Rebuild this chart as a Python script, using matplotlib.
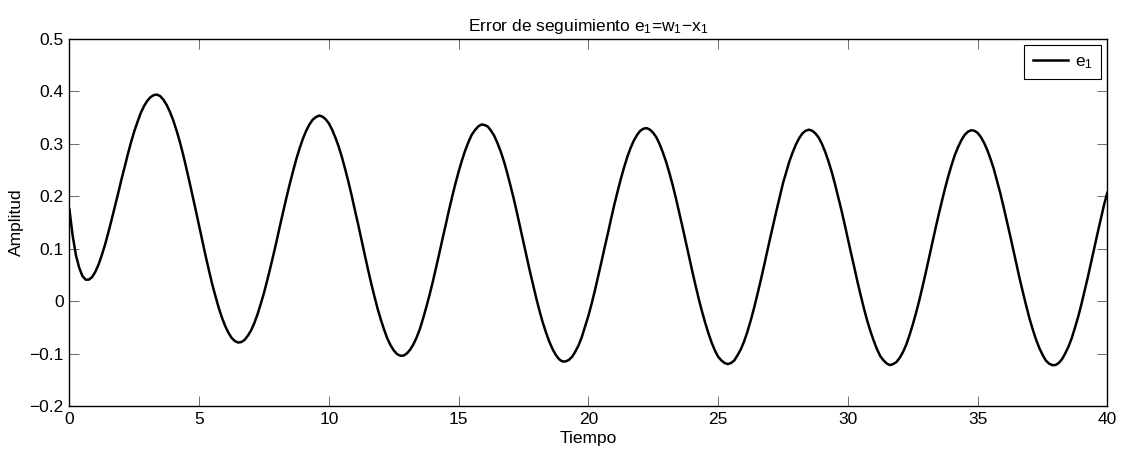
import numpy as np
import matplotlib.pyplot as plt

plt.rcParams['font.family'] = ['Liberation Sans', 'DejaVu Sans']
plt.rcParams['font.size'] = 12.5
plt.rcParams['axes.unicode_minus'] = True

# error signal e1 sampled every 0.125 s, 0..40 s (one row per second)
tiempo = np.linspace(0, 40, 321)
e1 = [
    0.175, 0.125, 0.088, 0.064, 0.048, 0.041, 0.041, 0.046,
    0.056, 0.070, 0.088, 0.108, 0.131, 0.155, 0.180, 0.205,
    0.231, 0.255, 0.280, 0.303, 0.324, 0.342, 0.359, 0.372,
    0.382, 0.389, 0.393, 0.394, 0.391, 0.384, 0.374, 0.361,
    0.345, 0.326, 0.305, 0.281, 0.255, 0.228, 0.200, 0.172,
    0.143, 0.114, 0.086, 0.059, 0.033, 0.010, -0.012, -0.031,
    -0.047, -0.060, -0.070, -0.076, -0.079, -0.078, -0.074, -0.066,
    -0.056, -0.042, -0.025, -0.005, 0.016, 0.040, 0.065, 0.091,
    0.118, 0.146, 0.173, 0.200, 0.225, 0.249, 0.272, 0.292,
    0.310, 0.325, 0.337, 0.346, 0.351, 0.354, 0.352, 0.347,
    0.339, 0.327, 0.312, 0.295, 0.275, 0.252, 0.228, 0.202,
    0.174, 0.147, 0.118, 0.090, 0.062, 0.035, 0.010, -0.014,
    -0.035, -0.054, -0.071, -0.084, -0.094, -0.101, -0.104, -0.104,
    -0.100, -0.093, -0.083, -0.070, -0.054, -0.034, -0.012, 0.011,
    0.036, 0.063, 0.090, 0.118, 0.145, 0.173, 0.199, 0.224,
    0.247, 0.268, 0.287, 0.303, 0.317, 0.326, 0.333, 0.337,
    0.336, 0.333, 0.325, 0.315, 0.301, 0.285, 0.266, 0.244,
    0.220, 0.195, 0.168, 0.140, 0.112, 0.084, 0.056, 0.030,
    0.004, -0.020, -0.042, -0.061, -0.078, -0.092, -0.103, -0.111,
    -0.115, -0.115, -0.112, -0.106, -0.096, -0.084, -0.068, -0.048,
    -0.028, -0.005, 0.020, 0.047, 0.074, 0.102, 0.129, 0.157,
    0.184, 0.209, 0.233, 0.255, 0.275, 0.292, 0.306, 0.317,
    0.325, 0.329, 0.330, 0.327, 0.321, 0.312, 0.299, 0.283,
    0.265, 0.244, 0.221, 0.196, 0.169, 0.142, 0.114, 0.086,
    0.058, 0.031, 0.005, -0.019, -0.041, -0.061, -0.079, -0.094,
    -0.106, -0.113, -0.118, -0.120, -0.118, -0.113, -0.103, -0.092,
    -0.077, -0.059, -0.038, -0.015, 0.010, 0.036, 0.063, 0.091,
    0.119, 0.146, 0.173, 0.199, 0.225, 0.246, 0.267, 0.284,
    0.299, 0.311, 0.320, 0.325, 0.327, 0.325, 0.320, 0.312,
    0.300, 0.285, 0.267, 0.247, 0.224, 0.199, 0.174, 0.147,
    0.119, 0.091, 0.064, 0.036, 0.010, -0.015, -0.038, -0.058,
    -0.076, -0.092, -0.105, -0.113, -0.119, -0.122, -0.120, -0.116,
    -0.108, -0.097, -0.083, -0.065, -0.045, -0.023, 0.001, 0.027,
    0.054, 0.082, 0.110, 0.138, 0.165, 0.191, 0.216, 0.239,
    0.260, 0.279, 0.294, 0.307, 0.317, 0.323, 0.326, 0.325,
    0.321, 0.313, 0.302, 0.288, 0.271, 0.252, 0.229, 0.206,
    0.180, 0.153, 0.126, 0.098, 0.070, 0.042, 0.016, -0.009,
    -0.033, -0.054, -0.073, -0.089, -0.102, -0.113, -0.119, -0.122,
    -0.122, -0.118, -0.111, -0.100, -0.087, -0.071, -0.051, -0.030,
    -0.006, 0.020, 0.046, 0.074, 0.102, 0.130, 0.157, 0.184,
    0.207,
]

x_ticks = [0, 5, 10, 15, 20, 25, 30, 35, 40]
y_ticks = [-0.2, -0.1, 0, 0.1, 0.2, 0.3, 0.4, 0.5]
y_labels = ['\u22120.2', '\u22120.1', '0', '0.1', '0.2', '0.3', '0.4', '0.5']

fig = plt.figure(figsize=(11.25, 4.55), dpi=100)
ax = fig.add_axes([0.0617, 0.1077, 0.9226, 0.8066])

ax.plot(tiempo, e1, color='black', linewidth=1.8, label=r'$\mathregular{e_1}$',
        solid_joinstyle='round')

ax.set_xlim(0, 40)
ax.set_ylim(-0.2, 0.5)
ax.set_xticks(x_ticks)
ax.set_yticks(y_ticks)
ax.set_yticklabels(y_labels)

ax.tick_params(direction='in', length=7, width=0.6, color='#555555',
               top=True, right=True, labelsize=12.5, pad=4)
for sp in ax.spines.values():
    sp.set_linewidth(1.0)
    sp.set_color('black')

ax.set_title(r'Error de seguimiento $\mathregular{e_1}$=$\mathregular{w_1}$$\mathregular{-}$$\mathregular{x_1}$',
             fontsize=12.5, pad=6)
ax.set_xlabel('Tiempo', fontsize=12.5, labelpad=3)
ax.set_ylabel('Amplitud', fontsize=12.5, labelpad=4)

leg = ax.legend(loc='upper right', fancybox=False, framealpha=1,
                edgecolor='black', handlelength=2.0, borderpad=0.5,
                handletextpad=0.4, borderaxespad=0.35, fontsize=12.5)
leg.get_frame().set_linewidth(0.8)

fig.savefig('out.png', dpi=100)
